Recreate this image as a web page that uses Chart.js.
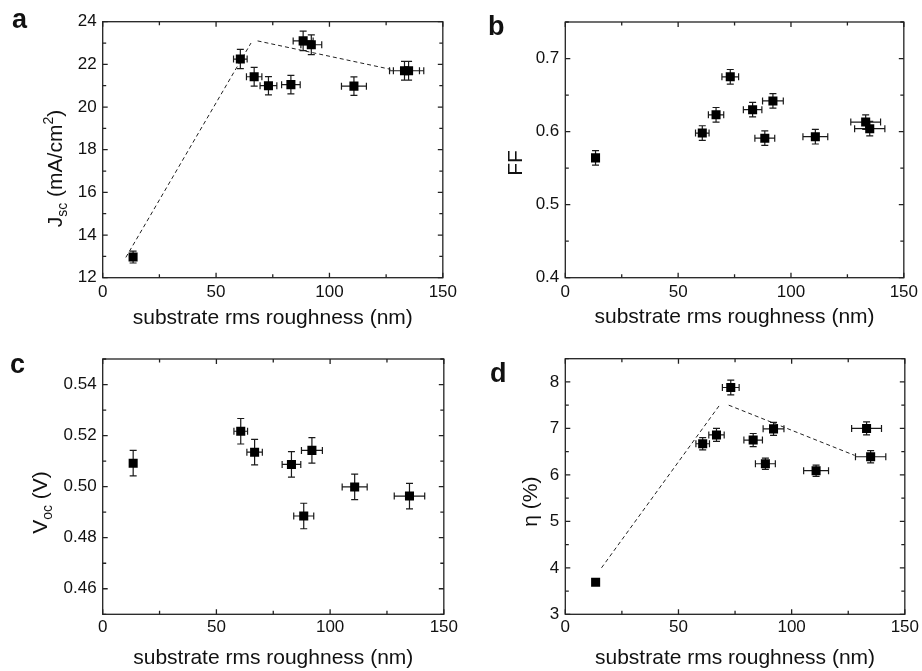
<!DOCTYPE html>
<html>
<head>
<meta charset="utf-8">
<script src="https://cdn.jsdelivr.net/npm/chart.js@4.4.1/dist/chart.umd.min.js"></script>
<style>
  html, body { margin: 0; padding: 0; background: #fff; }
  #wrap { position: relative; width: 922px; height: 671px; overflow: hidden; }
  canvas { position: absolute; }
</style>
</head>
<body>
<div id="wrap">
  <canvas id="pa" width="461" height="335" style="left:0;top:0;width:461px;height:335px"></canvas>
  <canvas id="pb" width="461" height="335" style="left:461px;top:0;width:461px;height:335px"></canvas>
  <canvas id="pc" width="461" height="336" style="left:0;top:335px;width:461px;height:336px"></canvas>
  <canvas id="pd" width="461" height="336" style="left:461px;top:335px;width:461px;height:336px"></canvas>
</div>
<script>
// Substrate rms roughness of each sample (nm) and its uncertainty
const roughness    = [13.4, 60.7, 66.8, 73.1, 83.0, 88.4, 92.0, 110.8, 133.1, 134.9];
const roughnessErr = [0.7, 3.0, 3.4, 3.7, 4.1, 4.4, 4.6, 5.5, 6.6, 6.7];

// Short-circuit current density (mA/cm2)
const jsc    = [12.97, 22.25, 21.42, 21.00, 21.05, 23.10, 22.92, 20.98, 21.70, 21.70];
const jscErr = [0.28, 0.45, 0.44, 0.43, 0.43, 0.46, 0.46, 0.43, 0.44, 0.44];

// Fill factor
const ff    = [0.564, 0.598, 0.623, 0.675, 0.630, 0.591, 0.642, 0.593, 0.613, 0.604];
const ffErr = [0.010, 0.010, 0.010, 0.010, 0.010, 0.010, 0.010, 0.010, 0.010, 0.010];

// Open-circuit voltage (V); two samples fall outside the plotted range
const voc    = [0.5092, 0.5217, 0.5135, null, 0.5087, 0.4885, 0.5142, 0.4999, null, 0.4963];
const vocErr = [0.005, 0.005, 0.005, null, 0.005, 0.005, 0.005, 0.005, null, 0.005];

// Conversion efficiency (%)
const eta    = [3.69, 6.67, 6.86, 7.88, 6.75, 6.24, 6.99, 6.09, 7.00, 6.39];
const etaErr = [0.07, 0.13, 0.14, 0.16, 0.14, 0.12, 0.14, 0.12, 0.14, 0.13];

// Dashed guide lines (two segments each) for Jsc and efficiency
const jscGuide1X = [10.2, 65.4],  jscGuide1Y = [12.95, 23.00];
const jscGuide2X = [68.3, 126.9], jscGuide2Y = [23.10, 21.77];
const etaGuide1X = [16.0, 68.6],  etaGuide1Y = [4.00, 7.53];
const etaGuide2X = [72.2, 127.8], etaGuide2Y = [7.50, 6.42];

// Axis ticks
const xMajorTicks = [0, 50, 100, 150];
const xMinorTicks = [25, 75, 125];
const jscTicks  = [12, 14, 16, 18, 20, 22, 24];
const jscMinor  = [13, 15, 17, 19, 21, 23];
const ffTicks   = [0.4, 0.5, 0.6, 0.7];
const ffMinor   = [0.45, 0.55, 0.65, 0.75];
const vocTicks  = [0.46, 0.48, 0.50, 0.52, 0.54];
const vocMinor  = [0.45, 0.47, 0.49, 0.51, 0.53, 0.55];
const etaTicks  = [3, 4, 5, 6, 7, 8];
const etaMinor  = [3.5, 4.5, 5.5, 6.5, 7.5, 8.5];

const FONT = '"Liberation Sans", Arial, Helvetica, sans-serif';
const INK = '#111';

function toPoints(xs, ys, xe, ye) {
  return xs.map((x, i) => ({ x: x, y: ys[i], xErr: xe[i], yErr: ye[i] }));
}
function toLine(xs, ys) {
  return xs.map((x, i) => ({ x: x, y: ys[i] }));
}

// Box frame with inward major/minor ticks on all four sides
function framePlugin(xMinor, yMinor) {
  return {
    id: 'frame',
    afterDatasetsDraw(chart) {
      const { ctx, chartArea: a, scales: { x, y } } = chart;
      ctx.save();
      ctx.strokeStyle = '#222';
      ctx.lineWidth = 1.3;
      ctx.strokeRect(a.left, a.top, a.right - a.left, a.bottom - a.top);
      ctx.beginPath();
      const tickX = (v, len) => {
        const px = x.getPixelForValue(v);
        ctx.moveTo(px, a.bottom); ctx.lineTo(px, a.bottom - len);
        ctx.moveTo(px, a.top);    ctx.lineTo(px, a.top + len);
      };
      const tickY = (v, len) => {
        const py = y.getPixelForValue(v);
        ctx.moveTo(a.left, py);  ctx.lineTo(a.left + len, py);
        ctx.moveTo(a.right, py); ctx.lineTo(a.right - len, py);
      };
      x.ticks.forEach(t => tickX(t.value, 5));
      xMinor.forEach(v => tickX(v, 3.5));
      y.ticks.forEach(t => tickY(t.value, 5));
      yMinor.forEach(v => tickY(v, 3.5));
      ctx.stroke();
      ctx.restore();
    }
  };
}

// Horizontal and vertical error bars with end caps for the first dataset
const errorBarPlugin = {
  id: 'errorBars',
  beforeDatasetsDraw(chart) {
    const { ctx, scales: { x, y } } = chart;
    const cap = 3.5;
    ctx.save();
    ctx.strokeStyle = '#1a1a1a';
    ctx.lineWidth = 1.2;
    ctx.beginPath();
    chart.data.datasets[0].data.forEach(p => {
      if (p.y == null) return;
      const px = x.getPixelForValue(p.x), py = y.getPixelForValue(p.y);
      const x0 = x.getPixelForValue(p.x - p.xErr), x1 = x.getPixelForValue(p.x + p.xErr);
      const y0 = y.getPixelForValue(p.y - p.yErr), y1 = y.getPixelForValue(p.y + p.yErr);
      ctx.moveTo(x0, py); ctx.lineTo(x1, py);
      ctx.moveTo(x0, py - cap); ctx.lineTo(x0, py + cap);
      ctx.moveTo(x1, py - cap); ctx.lineTo(x1, py + cap);
      ctx.moveTo(px, y0); ctx.lineTo(px, y1);
      ctx.moveTo(px - cap, y0); ctx.lineTo(px + cap, y0);
      ctx.moveTo(px - cap, y1); ctx.lineTo(px + cap, y1);
    });
    ctx.stroke();
    ctx.restore();
  }
};

// Panel letter, x-axis title and rich y-axis title (with sub/superscripts)
function textPlugin(t) {
  return {
    id: 'panelText',
    afterDraw(chart) {
      const { ctx, chartArea: a } = chart;
      ctx.save();
      ctx.fillStyle = INK;
      ctx.textBaseline = 'alphabetic';
      // panel letter
      ctx.font = 'bold 27px ' + FONT;
      ctx.textAlign = 'left';
      ctx.fillText(t.letter, t.letterX, t.letterY);
      // x title
      ctx.font = '21px ' + FONT;
      ctx.textAlign = 'center';
      ctx.fillText('substrate rms roughness (nm)', (a.left + a.right) / 2, a.bottom + t.xTitleDy);
      // y title, rotated
      const base = 21, small = 14;
      ctx.textAlign = 'left';
      let total = 0;
      t.yRuns.forEach(r => {
        ctx.font = (r.sub || r.sup ? small : base) + 'px ' + FONT;
        r.w = ctx.measureText(r.t).width;
        total += r.w;
      });
      ctx.translate(t.yTitleX, t.yTitleCy);
      ctx.rotate(-Math.PI / 2);
      let cx = -total / 2;
      t.yRuns.forEach(r => {
        ctx.font = (r.sub || r.sup ? small : base) + 'px ' + FONT;
        const dy = r.sub ? 5 : (r.sup ? -9 : 0);
        ctx.fillText(r.t, cx, dy);
        cx += r.w;
      });
      ctx.restore();
    }
  };
}

function makePanel(id, p) {
  const datasets = [{
    data: toPoints(roughness, p.values, roughnessErr, p.errors),
    pointStyle: 'rect',
    pointRadius: 6.4,
    pointHoverRadius: 6.4,
    backgroundColor: '#000',
    borderColor: '#000',
    borderWidth: 0,
    showLine: false,
    order: 0
  }];
  (p.guides || []).forEach(g => datasets.push({
    data: toLine(g[0], g[1]),
    showLine: true,
    pointRadius: 0,
    borderColor: '#222',
    borderWidth: 1,
    borderDash: [4, 3],
    fill: false,
    order: 1
  }));

  new Chart(document.getElementById(id), {
    type: 'scatter',
    data: { datasets },
    options: {
      responsive: false,
      animation: false,
      devicePixelRatio: 1,
      events: [],
      layout: { padding: { left: 0, top: p.area.top, right: p.canvasW - p.area.right, bottom: p.canvasH - p.area.bottom - 30 } },
      plugins: { legend: { display: false }, tooltip: { enabled: false } },
      scales: {
        x: {
          type: 'linear', min: 0, max: 150,
          afterBuildTicks: s => { s.ticks = xMajorTicks.map(v => ({ value: v })); },
          afterFit: s => { s.height = 30; },
          grid: { display: false, drawTicks: false },
          border: { display: false },
          ticks: { padding: p.xPad, autoSkip: false, maxRotation: 0, color: INK,
                   font: { family: FONT, size: 17 }, callback: v => String(v) }
        },
        y: {
          type: 'linear', min: p.yMin, max: p.yMax,
          afterBuildTicks: s => { s.ticks = p.ticks.map(v => ({ value: v })); },
          afterFit: s => { s.width = p.area.left; },
          grid: { display: false, drawTicks: false },
          border: { display: false },
          ticks: { padding: 6, autoSkip: false, color: INK,
                   font: { family: FONT, size: 17 }, callback: v => v.toFixed(p.decimals) }
        }
      }
    },
    plugins: [errorBarPlugin, framePlugin(xMinorTicks, p.minor), textPlugin(p.text)]
  });
}

makePanel('pa', {
  values: jsc, errors: jscErr, yMin: 12, yMax: 24, ticks: jscTicks, minor: jscMinor, decimals: 0,
  guides: [[jscGuide1X, jscGuide1Y], [jscGuide2X, jscGuide2Y]],
  canvasW: 461, canvasH: 335, area: { left: 102.7, top: 21.7, right: 444.3, bottom: 277.7 }, xPad: 4,
  text: { letter: 'a', letterX: 12, letterY: 27.5, xTitleDy: 45.8, yTitleX: 62, yTitleCy: 168.5,
          yRuns: [{ t: 'J' }, { t: 'sc', sub: true }, { t: ' (mA/cm' }, { t: '2', sup: true }, { t: ')' }] }
});

makePanel('pb', {
  values: ff, errors: ffErr, yMin: 0.4, yMax: 0.75, ticks: ffTicks, minor: ffMinor, decimals: 1,
  canvasW: 461, canvasH: 335, area: { left: 104.3, top: 22, right: 446.3, bottom: 277.7 }, xPad: 4,
  text: { letter: 'b', letterX: 27, letterY: 35, xTitleDy: 45.3, yTitleX: 60.7, yTitleCy: 163,
          yRuns: [{ t: 'FF' }] }
});

makePanel('pc', {
  values: voc, errors: vocErr, yMin: 0.45, yMax: 0.55, ticks: vocTicks, minor: vocMinor, decimals: 2,
  canvasW: 461, canvasH: 336, area: { left: 102.7, top: 24, right: 444.3, bottom: 279.3 }, xPad: 3,
  text: { letter: 'c', letterX: 10, letterY: 38.3, xTitleDy: 50, yTitleX: 47, yTitleCy: 167.5,
          yRuns: [{ t: 'V' }, { t: 'oc', sub: true }, { t: ' (V)' }] }
});

makePanel('pd', {
  values: eta, errors: etaErr, yMin: 3, yMax: 8.5, ticks: etaTicks, minor: etaMinor, decimals: 0,
  guides: [[etaGuide1X, etaGuide1Y], [etaGuide2X, etaGuide2Y]],
  canvasW: 461, canvasH: 336, area: { left: 104.3, top: 23.7, right: 446.3, bottom: 279.3 }, xPad: 3,
  text: { letter: 'd', letterX: 29, letterY: 47.3, xTitleDy: 50, yTitleX: 76, yTitleCy: 166.7,
          yRuns: [{ t: 'η (%)' }] }
});
</script>
</body>
</html>
